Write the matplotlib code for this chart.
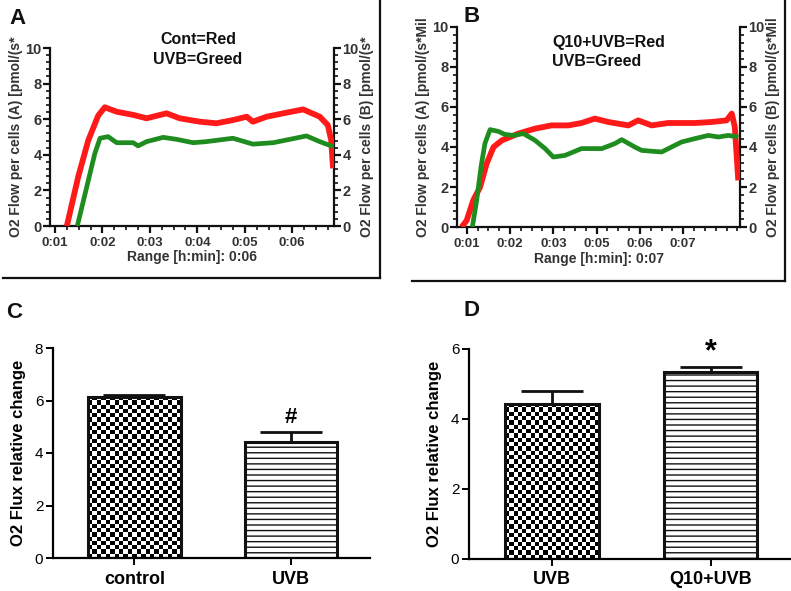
import numpy as np
import matplotlib
matplotlib.use("Agg")
import matplotlib.pyplot as plt
from matplotlib.ticker import MultipleLocator, AutoMinorLocator
from matplotlib.lines import Line2D

plt.rcParams['font.family'] = ['Liberation Sans', 'DejaVu Sans']
plt.rcParams['hatch.linewidth'] = 1.0

# ---------------- Data ----------------
# Panel A (time in minutes)
a_red_t = [1.25, 1.49, 1.70, 1.91, 2.05, 2.30, 2.65, 2.93, 3.35, 3.63, 4.05, 4.40, 4.75,
           5.04, 5.17, 5.46, 5.81, 6.23, 6.58, 6.75, 6.82, 6.86]
a_red_v = [0.0, 2.77, 4.8, 6.2, 6.67, 6.42, 6.24, 6.05, 6.33, 6.05, 5.86, 5.77, 5.95,
           6.14, 5.86, 6.14, 6.33, 6.55, 6.14, 5.67, 4.83, 3.24]
a_grn_t = [1.47, 1.67, 1.84, 1.95, 2.12, 2.30, 2.65, 2.75, 2.93, 3.28, 3.56, 3.91, 4.19,
           4.75, 5.17, 5.60, 5.95, 6.30, 6.58, 6.86]
a_grn_v = [0.0, 2.2, 4.08, 4.93, 5.02, 4.68, 4.68, 4.5, 4.74, 4.98, 4.87, 4.68, 4.74,
           4.93, 4.6, 4.68, 4.87, 5.06, 4.74, 4.46]
a_ticks = [1, 2, 3, 4, 5, 6]
a_ticklabels = ["0:01", "0:02", "0:03", "0:04", "0:05", "0:06"]

# Panel B (tick-index units)
b_red_t = [0.885, 1.0, 1.15, 1.31, 1.46, 1.62, 1.81, 2.0, 2.19, 2.58, 2.96, 3.35, 3.65,
           3.96, 4.27, 4.73, 4.96, 5.27, 5.65, 5.96, 6.27, 6.65, 7.0, 7.12, 7.19, 7.23, 7.27]
b_red_v = [0.0, 0.33, 1.33, 2.0, 3.17, 4.0, 4.33, 4.5, 4.67, 4.92, 5.08, 5.08, 5.2,
           5.42, 5.25, 5.08, 5.33, 5.08, 5.2, 5.2, 5.2, 5.25, 5.33, 5.67, 5.0, 3.67, 2.33]
b_grn_t = [1.13, 1.23, 1.33, 1.42, 1.54, 1.73, 1.88, 2.08, 2.31, 2.58, 2.81, 3.0, 3.27,
           3.65, 4.12, 4.42, 4.58, 4.88, 5.04, 5.5, 5.73, 5.96, 6.27, 6.58, 6.81, 7.04, 7.27]
b_grn_v = [0.0, 1.33, 3.0, 4.17, 4.87, 4.78, 4.63, 4.58, 4.67, 4.33, 3.92, 3.5, 3.58,
           3.92, 3.92, 4.17, 4.37, 4.0, 3.83, 3.75, 4.0, 4.25, 4.42, 4.58, 4.5, 4.58, 4.5]
b_ticks = [1, 2, 3, 4, 5, 6]
b_ticklabels = ["0:01", "0:02", "0:03", "0:05", "0:06", "0:07"]

# Panel C
c_cats = ["control", "UVB"]
c_vals = [6.15, 4.43]
c_errs = [0.05, 0.37]
# Panel D
d_cats = ["UVB", "Q10+UVB"]
d_vals = [4.43, 5.33]
d_errs = [0.37, 0.17]

RED = "#ff1a1a"
GREEN = "#1e8c1e"
TXT = "#333333"
W, H = 791, 591

fig = plt.figure(figsize=(7.91, 5.91), dpi=100)
fig.patch.set_facecolor("white")


def px_axes(l, t, r, b):
    return fig.add_axes([l / W, 1 - b / H, (r - l) / W, (b - t) / H])


def trace_panel(ax, xlim, ticks, labels, red_t, red_v, grn_t, grn_v, ylabA, ylabB,
                rangelab, rlab_x):
    ax.plot(red_t, red_v, color=RED, lw=4.2, solid_capstyle='butt', zorder=3)
    ax.plot(grn_t, grn_v, color=GREEN, lw=3.4, solid_capstyle='butt', zorder=3)
    ax.set_xlim(*xlim)
    ax.set_ylim(0, 10)
    ax.spines['top'].set_visible(False)
    for s in ['left', 'right', 'bottom']:
        ax.spines[s].set_linewidth(1.6)
        ax.spines[s].set_color('#111111')
    ax.set_xticks(ticks)
    ax.set_xticklabels(labels)
    ax.xaxis.set_minor_locator(AutoMinorLocator(4))
    ax.yaxis.set_major_locator(MultipleLocator(2))
    ax.yaxis.set_minor_locator(AutoMinorLocator(5))
    ax.tick_params(axis='y', which='both', left=True, right=True, labelleft=True,
                   labelright=True, direction='out', colors='#111111', labelcolor=TXT,
                   labelsize=10.5, pad=1)
    ax.tick_params(axis='y', which='major', length=5, width=1.6)
    ax.tick_params(axis='y', which='minor', length=3, width=1.2)
    ax.tick_params(axis='x', which='major', length=5, width=1.6, labelsize=9.5,
                   colors='#111111', labelcolor=TXT, pad=3)
    ax.tick_params(axis='x', which='minor', length=3, width=1.2, colors='#111111')
    for lab in ax.get_xticklabels() + ax.yaxis.get_ticklabels() + \
            [t.label2 for t in ax.yaxis.get_major_ticks()]:
        lab.set_fontweight('bold')
    ax.set_ylabel(ylabA, fontsize=10, fontweight='bold', color=TXT, labelpad=2)
    pos = ax.get_position()
    fig.text(rlab_x / W, pos.y0 + pos.height / 2, ylabB, rotation=90, ha='center',
             va='center', fontsize=10, fontweight='bold', color=TXT)
    ax.set_xlabel(rangelab, fontsize=10, fontweight='bold', color=TXT, labelpad=1)
    return ax


# Panel A
axA = px_axes(50, 48, 334, 226)
trace_panel(axA, (0.895, 6.88), a_ticks, a_ticklabels, a_red_t, a_red_v, a_grn_t, a_grn_v,
            "O2 Flow per cells (A) [pmol/(s*", "O2 Flow per cells (B) [pmol/(s*",
            "Range [h:min]: 0:06", 367)
# Panel B
axB = px_axes(457, 27, 740, 227)
trace_panel(axB, (0.776, 7.31), b_ticks, b_ticklabels, b_red_t, b_red_v, b_grn_t, b_grn_v,
            "O2 Flow per cells (A) [pmol/(s*Mil", "O2 Flow per cells (B) [pmol/(s*Mil",
            "Range [h:min]: 0:07", 773)

fig.text(198 / W, 1 - 39 / H, "Cont=Red", ha='center', va='center', fontsize=11.5,
         fontweight='bold', color='#111111')
fig.text(198 / W, 1 - 60 / H, "UVB=Greed", ha='center', va='center', fontsize=11.5,
         fontweight='bold', color='#111111')
fig.text(552 / W, 1 - 42 / H, "Q10+UVB=Red", ha='left', va='center', fontsize=11.5,
         fontweight='bold', color='#111111')
fig.text(552 / W, 1 - 62 / H, "UVB=Greed", ha='left', va='center', fontsize=11.5,
         fontweight='bold', color='#111111')


# frames around top panels
def fline(xs, ys):
    fig.add_artist(Line2D([x / W for x in xs], [1 - y / H for y in ys], color='#111111',
                          lw=1.6, transform=fig.transFigure))


fline([3, 380], [278, 278])
fline([380, 380], [0, 278])
fline([412, 785], [281, 281])
fline([785, 785], [0, 281])


def checker_fill(ax, bar, cell_px=4.3):
    x0, w, h = bar.get_x(), bar.get_width(), bar.get_height()
    p0 = ax.transData.transform((x0, 0))
    p1 = ax.transData.transform((x0 + w, h))
    nx = max(1, int(round(abs(p1[0] - p0[0]) / cell_px)))
    ny = max(1, int(round(abs(p1[1] - p0[1]) / cell_px)))
    yy, xx = np.mgrid[0:ny, 0:nx]
    img = ((xx + yy) % 2).astype(float)
    im = ax.imshow(img, cmap='gray', extent=(x0, x0 + w, 0, h), origin='lower',
                   interpolation='nearest', aspect='auto', zorder=1.5, vmin=0, vmax=1)
    im.set_clip_path(bar)
    bar.set_facecolor('none')


def bar_panel(ax, cats, vals, errs, ylim, yticks, mark, mark_y, mark_size):
    ax.set_xlim(-0.52, 1.506)
    ax.set_ylim(*ylim)
    x = np.arange(len(cats))
    bars = ax.bar(x, vals, width=0.59, color='white', edgecolor='#111111', linewidth=2.2,
                  zorder=2)
    bars[1].set_hatch('---')
    ax.errorbar(x, vals, yerr=[np.zeros(len(errs)), errs], fmt='none', ecolor='#111111',
                elinewidth=2.0, capsize=22, capthick=2.0, zorder=1)
    ax.set_yticks(yticks)
    ax.set_xticks(x)
    ax.set_xticklabels(cats, fontsize=13, fontweight='bold')
    ax.spines['top'].set_visible(False)
    ax.spines['right'].set_visible(False)
    for s in ['left', 'bottom']:
        ax.spines[s].set_linewidth(1.6)
    ax.tick_params(axis='y', labelsize=11, length=5, width=1.4, pad=2)
    ax.tick_params(axis='x', length=5, width=1.4, pad=4)
    ax.set_ylabel("O2 Flux relative change", fontsize=12, fontweight='bold', labelpad=6)
    ax.text(1, mark_y, mark, ha='center', va='center', fontsize=mark_size,
            fontweight='bold')
    ax.set_ylim(*ylim)
    ax.set_xlim(-0.52, 1.506)
    return bars


axC = px_axes(53, 348, 370, 558)
barsC = bar_panel(axC, c_cats, c_vals, c_errs, (0, 8), [0, 2, 4, 6, 8], "#", 5.37, 16)
axD = px_axes(469, 349, 791, 559)
barsD = bar_panel(axD, d_cats, d_vals, d_errs, (0, 6), [0, 2, 4, 6], "*", 5.92, 22)
checker_fill(axC, barsC[0])
checker_fill(axD, barsD[0])

for lab, (x, y) in zip("ABCD", [(17, 18), (472, 17), (14, 312), (472, 311)]):
    fig.text(x / W, 1 - y / H, lab, ha='center', va='center', fontsize=16,
             fontweight='bold', color='#111111')

fig.savefig("out.png", dpi=100, facecolor='white')
